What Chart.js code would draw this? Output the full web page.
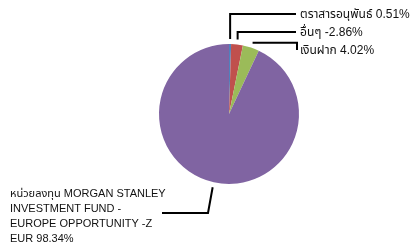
<!DOCTYPE html>
<html>
<head>
<meta charset="utf-8">
<script src="https://cdn.jsdelivr.net/npm/chart.js@4.4.1/dist/chart.umd.min.js"></script>
<style>
  html, body { margin: 0; padding: 0; background: #fff; }
  #wrap { width: 412px; height: 246px; }
</style>
</head>
<body>
<div id="wrap"><canvas id="chart" width="412" height="246"></canvas></div>
<script>
// Data
const categories = [
    'ตราสารอนุพันธ์',
    'อื่นๆ',
    'เงินฝาก',
    'หน่วยลงทุน MORGAN STANLEY\nINVESTMENT FUND -\nEUROPE OPPORTUNITY -Z\nEUR'
];
const values = [0.51, -2.86, 4.02, 98.34];
const colors = ['#4F81BD', '#C0504D', '#9BBB59', '#8064A2'];

// Label placement (leader line bends after the anchor, text position)
const labelLayout = [
    { path: a => [[a.x, 14], [296, 14]], text: [300, 15], font: 12 },
    { path: a => [[a.x, 32], [296, 32]], text: [300, 33], font: 12 },
    { path: a => [[297, a.y], [297, 50]], text: [300, 51], font: 12 },
    { path: a => [[208, 213], [162, 213]], text: [10, 194], font: 11, lineHeight: 15 }
];

// Leader lines + labels
const leaderLabels = {
    id: 'leaderLabels',
    afterDraw(chart) {
        const ctx = chart.ctx;
        const meta = chart.getDatasetMeta(0);
        ctx.save();
        meta.data.forEach((arc, i) => {
            const lay = labelLayout[i];
            const mid = (arc.startAngle + arc.endAngle) / 2;
            const r = arc.outerRadius + 5;
            const anchor = { x: arc.x + Math.cos(mid) * r, y: arc.y + Math.sin(mid) * r };
            const pts = [[anchor.x, anchor.y]].concat(lay.path(anchor));

            ctx.strokeStyle = '#000';
            ctx.lineWidth = 2;
            ctx.lineJoin = 'miter';
            ctx.beginPath();
            pts.forEach((p, k) => k ? ctx.lineTo(p[0], p[1]) : ctx.moveTo(p[0], p[1]));
            ctx.stroke();

            ctx.fillStyle = '#111';
            ctx.font = lay.font + 'px "Liberation Sans", Arial, "Noto Sans Thai", sans-serif';
            ctx.textAlign = 'left';
            ctx.textBaseline = 'middle';
            const txt = categories[i] + ' ' + values[i].toFixed(2) + '%';
            txt.split('\n').forEach((l, k) => {
                ctx.fillText(l, lay.text[0], lay.text[1] + k * (lay.lineHeight || 15));
            });
        });
        ctx.restore();
    }
};

new Chart(document.getElementById('chart').getContext('2d'), {
    type: 'pie',
    data: {
        labels: categories,
        datasets: [{
            data: values,
            backgroundColor: colors,
            borderWidth: 0
        }]
    },
    options: {
        responsive: false,
        animation: false,
        layout: { padding: { left: 159, right: 113, top: 44, bottom: 62 } },
        plugins: {
            legend: { display: false },
            tooltip: { enabled: false }
        }
    },
    plugins: [leaderLabels]
});
</script>
</body>
</html>
